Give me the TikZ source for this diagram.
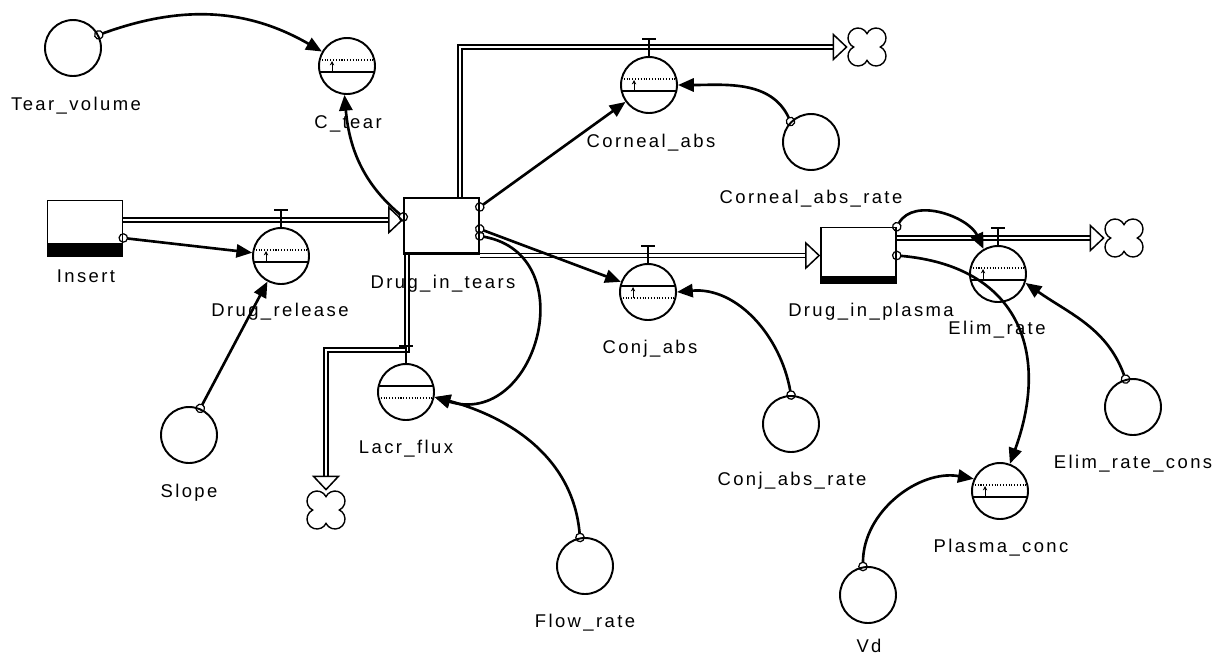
\documentclass[tikz,border=0pt]{standalone}
\usepackage{fontspec}
\setmainfont{Liberation Sans}
\newfontfamily\lblfont[LetterSpace=13]{Liberation Sans}
\usepackage{tikz}
\usetikzlibrary{positioning}
\usetikzlibrary{arrows.meta}

\tikzset{
  conv/.style={circle, draw, line width=1.1pt, minimum size=1.12cm, inner sep=0pt},
  rate/.style={conv, path picture={
    \draw[densely dotted, line width=0.6pt] ([yshift=0.12cm]path picture bounding box.west) -- ([yshift=0.12cm]path picture bounding box.east);
    \draw[line width=0.8pt] ([yshift=-0.12cm]path picture bounding box.west) -- ([yshift=-0.12cm]path picture bounding box.east);}},
  ratedown/.style={conv, path picture={
    \draw[line width=0.8pt] ([yshift=0.12cm]path picture bounding box.west) -- ([yshift=0.12cm]path picture bounding box.east);
    \draw[densely dotted, line width=0.6pt] ([yshift=-0.12cm]path picture bounding box.west) -- ([yshift=-0.12cm]path picture bounding box.east);}},
  ratearr/.style={append after command={
    \pgfextra{\draw[line width=0.5pt, -{Stealth[length=2.5pt, width=2.5pt]}] ([xshift=-0.3cm, yshift=-0.12cm]\tikzlastnode.center) -- ++(0,0.22cm);}}},
  stock/.style={rectangle, draw, line width=0.9pt, minimum width=1.5cm, minimum height=1.12cm, inner sep=0pt},
  stockfill/.style={path picture={\fill (path picture bounding box.south west) rectangle ([yshift=#1]path picture bounding box.south east);}},
  lbl/.style={font=\lblfont\fontsize{10.5}{12}\selectfont, anchor=base, inner sep=0pt},
  link/.style={line width=1.5pt, shorten <=-2.75pt,
    {Circle[open, length=5.5pt, line width=0.7pt]}-{Triangle[length=9pt, width=7.5pt]}},
  pipe/.style={double, double distance=0.055cm, line width=0.85pt,
    -{Triangle[open, length=0.3cm, width=0.56cm]}},
  valve/.style={line width=1.1pt},
  sink/.style={circle, minimum size=0.76cm, inner sep=0pt},
  cloud/.pic={\draw[line width=0.8pt, fill=white] (13.36,0) arc[start angle=-64.2, end angle=154.2, radius=10]
    arc[start angle=25.8, end angle=244.2, radius=10] arc[start angle=115.8, end angle=334.2, radius=10]
    arc[start angle=205.8, end angle=424.2, radius=10] -- cycle;}
}

\begin{document}
\begin{tikzpicture}[x=0.02cm, y=0.02cm]
\useasboundingbox (0,0) rectangle (1228,-654);

% stocks
\node[stock, stockfill=0.28cm] (ins) at (85,-228.5) {};
\node[stock, stockfill=0.05cm] (tears) at (441.5,-226) {};
\node[stock, stockfill=0.16cm] (dp) at (858.5,-255.5) {};
\node[lbl] (ins-l) at (86,-282) {Insert};
\node[lbl] (tears-l) at (443,-288) {Drug\_in\_tears};
\node[lbl] (dp-l) at (871,-316) {Drug\_in\_plasma};

% sinks
\node[sink] (s1) at (867,-47) {};
\node[sink] (s2) at (1124,-238) {};
\node[sink] (s3) at (326,-510) {};

% flows
\draw[pipe] (ins.east |- 0,-220) -- (tears.west |- 0,-220);
\draw[pipe] (tears.north -| 460,0) |- (s1);
\draw[pipe] (tears.south east |- dp.west) -- (dp.west);
\draw[pipe] (dp.east |- 0,-238) -- (s2);
\draw[pipe] (tears.south -| 407,0) -- (407,-350) -| (s3);
\pic at (s1) {cloud};
\pic at (s2) {cloud};
\pic at (s3) {cloud};

% rates
\node[rate, ratearr] (ct) at (347,-66) {};
\node[rate, ratearr] (dr) at (281,-256) {};
\node[rate, ratearr] (ca) at (649,-85) {};
\node[ratedown, ratearr] (cj) at (648,-292) {};
\node[ratedown] (lf) at (406,-392) {};
\node[rate, ratearr] (er) at (998,-274) {};
\node[rate, ratearr] (pc) at (1000,-491) {};
\draw[valve] (dr.north) -- ++(0,17) ++(-7,0) -- ++(14,0);
\draw[valve] (ca.north) -- ++(0,17) ++(-7,0) -- ++(14,0);
\draw[valve] (cj.north) -- ++(0,17) ++(-7,0) -- ++(14,0);
\draw[valve] (er.north) -- ++(0,17) ++(-7,0) -- ++(14,0);
\draw[valve] (lf.north) -- ++(0,17) ++(-7,0) -- ++(14,0);
\node[lbl] (ct-l) at (348,-128) {C\_tear};
\node[lbl] (dr-l) at (280,-316) {Drug\_release};
\node[lbl] (ca-l) at (651,-147) {Corneal\_abs};
\node[lbl] (cj-l) at (650,-353) {Conj\_abs};
\node[lbl] (lf-l) at (406,-453) {Lacr\_flux};
\node[lbl] (er-l) at (997,-334) {Elim\_rate};
\node[lbl] (pc-l) at (1001,-552) {Plasma\_conc};

% converters
\node[conv] (tv) at (73,-48) {};
\node[conv] (car) at (811,-142) {};
\node[conv] (cjr) at (791,-424) {};
\node[conv] (sl) at (189,-435) {};
\node[conv] (fr) at (585,-566) {};
\node[conv] (erc) at (1133,-407) {};
\node[conv] (vd) at (868,-595) {};
\node[lbl] (tv-l) at (76,-110) {Tear\_volume};
\node[lbl] (car-l) at (811,-203) {Corneal\_abs\_rate};
\node[lbl] (cjr-l) at (792,-485) {Conj\_abs\_rate};
\node[lbl] (sl-l) at (189,-497) {Slope};
\node[lbl] (fr-l) at (585,-627) {Flow\_rate};
\node[lbl] (erc-l) at (1133,-468) {Elim\_rate\_cons};
\node[lbl] (vd-l) at (869,-652) {Vd};

% connectors
\draw[link] (tv.27) to[out=20, in=150] (ct.150);
\draw[link] ([yshift=0.18cm]tears.west) to[out=140, in=-85] (ct.265);
\draw[link] ([yshift=-0.19cm]ins.east) -- (dr);
\draw[link] (sl.67) -- (dr);
\draw[link] ([yshift=0.38cm]tears.east) -- (ca);
\draw[link] (car.135) to[out=115, in=0] (ca.east);
\draw[link] ([yshift=-0.06cm]tears.east) -- (cj);
\draw[link] ([yshift=-0.2cm]tears.east) .. controls +(105,-19) and +(102,-32) .. (lf.-10);
\draw[link] (fr.100) to[out=95, in=-15] (lf.-10);
\draw[link] (cjr.90) to[out=100, in=5] (cj.east);
\draw[link] (dp.north east) to[out=60, in=115] (er.120);
\draw[link] (dp.east) to[out=-5, in=70, looseness=1.3] (pc.70);
\draw[link] (erc.105) to[out=110, in=-35] (er.-18);
\draw[link] (vd.100) to[out=90, in=170] (pc.155);
\end{tikzpicture}
\end{document}
